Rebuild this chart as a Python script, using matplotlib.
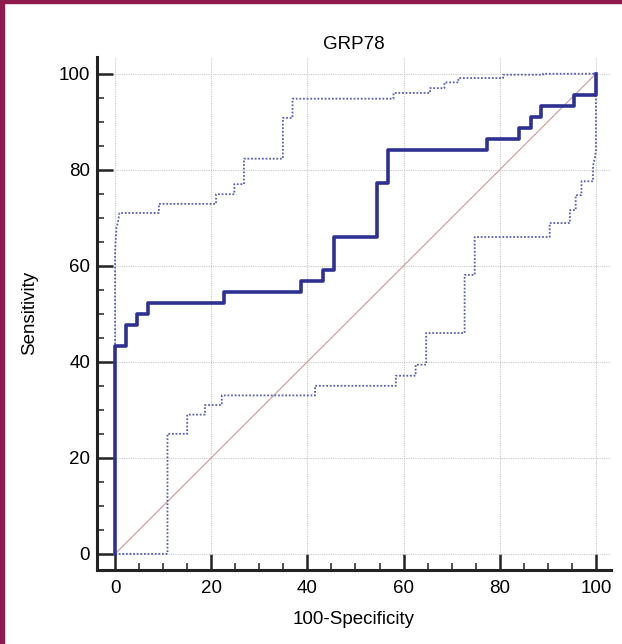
import matplotlib.pyplot as plt
from matplotlib.patches import Rectangle
from matplotlib.ticker import MultipleLocator

plt.rcParams['font.family'] = ['Liberation Sans', 'DejaVu Sans']

# ROC curve (step vertices, 100-Specificity vs Sensitivity)
roc_x = [0, 0, 2.3, 4.5, 6.8, 22.7, 38.6, 43.2, 45.5, 54.5, 56.8, 77.3, 84.1, 86.4, 88.6, 95.5, 100, 100]
roc_y = [0, 43.2, 47.7, 50.0, 52.3, 54.5, 56.8, 59.1, 65.9, 77.3, 84.1, 86.4, 88.6, 90.9, 93.2, 95.5, 95.5, 100]

# upper confidence bound
upper_x = [0, 0, 0.3, 0.6, 0.9, 9.1, 9.1, 21.0, 21.0, 24.8, 24.8, 26.8, 26.8, 34.9, 34.9, 36.9, 36.9,
           57.9, 57.9, 65.5, 65.5, 68.5, 68.5, 71.4, 71.4, 80.7, 80.7, 89.0, 89.0, 100]
upper_y = [0, 63, 68, 69, 71, 71, 72.9, 72.9, 74.9, 74.9, 77.0, 77.0, 82.3, 82.3, 90.8, 90.8, 94.8,
           94.8, 96.0, 96.0, 97.0, 97.0, 98.2, 98.2, 99.1, 99.1, 99.8, 99.8, 100, 100]

# lower confidence bound
lower_x = [0, 10.9, 10.9, 15.0, 15.0, 18.7, 18.7, 22.2, 22.2, 41.6, 41.6, 58.4, 58.4, 62.5, 62.5,
           64.7, 64.7, 72.7, 72.7, 74.8, 74.8, 90.4, 90.4, 94.6, 94.6, 95.8, 95.8, 97.0, 97.0,
           99.4, 99.4, 99.8, 100, 100]
lower_y = [0, 0, 25.0, 25.0, 29.0, 29.0, 31.0, 31.0, 33.0, 33.0, 35.0, 35.0, 37.1, 37.1, 39.4,
           39.4, 46.0, 46.0, 58.1, 58.1, 66.0, 66.0, 68.9, 68.9, 71.6, 71.6, 74.7, 74.7, 77.6,
           77.6, 80.8, 82.5, 84, 100]

fig = plt.figure(figsize=(6.22, 6.44), dpi=100)
ax = fig.add_axes([0.156, 0.115, 0.826, 0.7966])

ax.plot([0, 100], [0, 100], color='#c99a9a', lw=0.8, zorder=2)
ax.plot(upper_x, upper_y, color='#5b60ad', lw=1.3, ls=(0, (1, 1)), zorder=3)
ax.plot(lower_x, lower_y, color='#5b60ad', lw=1.3, ls=(0, (1, 1)), zorder=3)
ax.step(roc_x, roc_y, where='post', color='#2e3192', lw=2.6, zorder=4)

ax.set_xlim(-3.75, 103.1)
ax.set_ylim(-3.35, 103.5)
ax.xaxis.set_major_locator(MultipleLocator(20))
ax.yaxis.set_major_locator(MultipleLocator(20))
ax.xaxis.set_minor_locator(MultipleLocator(5))
ax.yaxis.set_minor_locator(MultipleLocator(5))

ax.grid(True, which='major', color='#c8c8c8', ls=(0, (1, 1)), lw=0.8, zorder=1)
for s in ['top', 'right']:
    ax.spines[s].set_visible(False)
for s in ['left', 'bottom']:
    ax.spines[s].set_linewidth(2.2)
    ax.spines[s].set_color('#222222')

ax.tick_params(which='major', direction='in', length=11.5, width=1.8, color='#222222',
               labelsize=13.5, pad=5)
ax.tick_params(which='minor', direction='in', length=5, width=1.1, color='#222222')
ax.tick_params(axis='x', pad=7)

ax.set_title('GRP78', fontsize=13.5, pad=6)
ax.set_xlabel('100-Specificity', fontsize=13.5, labelpad=10)
ax.set_ylabel('Sensitivity', fontsize=13.5, labelpad=15)

# maroon frame on the left and top
fig.patches.append(Rectangle((0, 0), 4 / 622, 1, transform=fig.transFigure,
                             color='#8e1b4e', zorder=10))
fig.patches.append(Rectangle((0, 1 - 3 / 644), 1, 3 / 644, transform=fig.transFigure,
                             color='#8e1b4e', zorder=10))

plt.savefig('out.png', dpi=100)
